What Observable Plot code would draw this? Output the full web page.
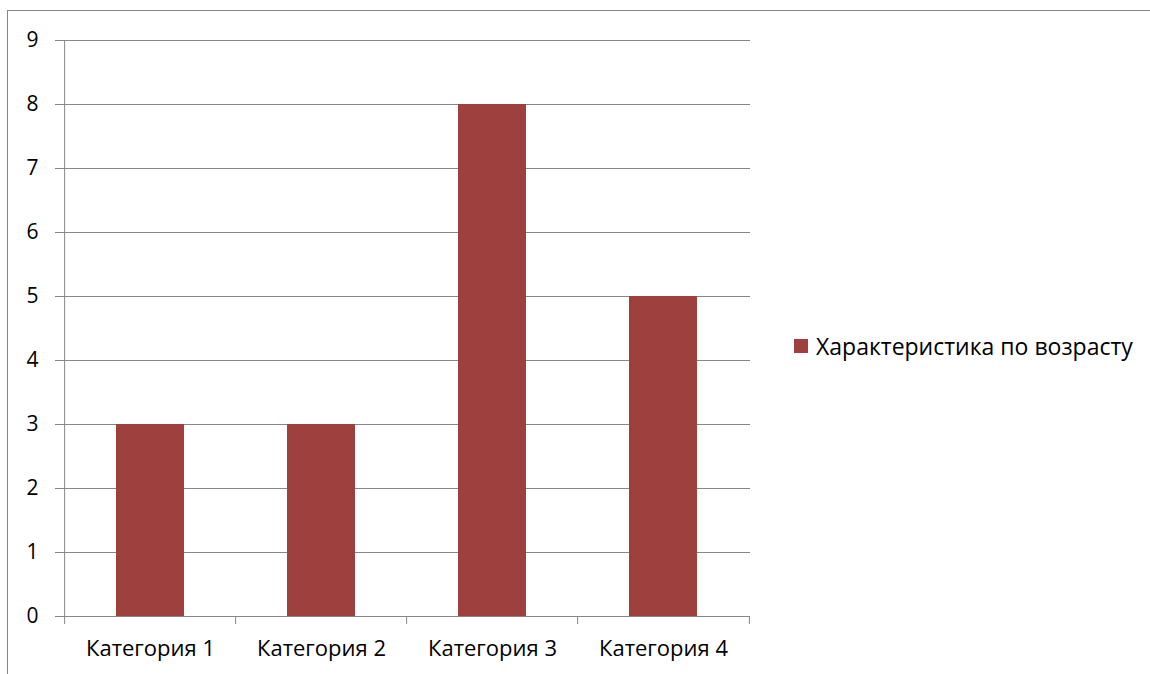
<!DOCTYPE html>
<html><head><meta charset="utf-8">
<script src="https://cdn.jsdelivr.net/npm/d3@7"></script>
<script src="https://cdn.jsdelivr.net/npm/@observablehq/plot@0.6"></script>
<style>
body{margin:0;background:#fff;font-family:"Open Sans",sans-serif;}
#wrap{position:relative;width:1150px;height:674px;overflow:hidden;}
#border{position:absolute;left:7px;top:10px;width:1200px;height:700px;border-left:1px solid #868686;border-top:1px solid #868686;}
#chart{position:absolute;left:0;top:0;}
#legend{position:absolute;left:794px;top:331px;height:30px;display:flex;align-items:center;font-size:23px;line-height:30px;color:#000;white-space:nowrap;}
#legend .sw{width:14px;height:14px;margin-right:8px;}
</style></head>
<body><div id="wrap"><div id="border"></div><div id="chart"></div><div id="legend"></div></div>
<script>
const categories = ["Категория 1","Категория 2","Категория 3","Категория 4"];
const values = [3, 3, 8, 5];
const seriesName = "Характеристика по возрасту";
const yTicks = [0,1,2,3,4,5,6,7,8,9];
const barColor = "#9E413E";
const gray = "#868686";

const data = categories.map((c,i)=>({category:c, value:values[i]}));
const W = 1150, H = 674, mL = 63, mR = 400, mT = 40, mB = 58;
const step = (W - mL - mR) / categories.length;

const plot = Plot.plot({
  width: W, height: H,
  marginLeft: mL, marginRight: mR, marginTop: mT, marginBottom: mB,
  style: {fontFamily: "Open Sans, sans-serif", fontSize: "21px", color: "#000", background: "transparent"},
  x: {domain: categories, paddingInner: 0.6, paddingOuter: 0.3, label: null},
  y: {domain: [0, 9], label: null},
  marks: [
    Plot.gridY(yTicks, {stroke: gray, strokeOpacity: 1, strokeWidth: 1}),
    Plot.barY(data, {x: "category", y: "value", fill: barColor}),
    Plot.axisY(yTicks, {tickSize: 8, tickPadding: 17, tickFormat: d3.format("d"), stroke: gray, strokeOpacity: 1, fill: "#000", fontSize: 21, label: null}),
    Plot.axisX({tickSize: 0, tickPadding: 24, fill: "#000", fontSize: 22, label: null}),
    Plot.ruleX(categories, {x: d => d, dx: -step/2, y1: 0, y2: -0.125, stroke: gray}),
    Plot.ruleX(categories.slice(-1), {x: d => d, dx: step/2, y1: 0, y2: -0.125, stroke: gray}),
    Plot.ruleY([0], {stroke: gray}),
    Plot.ruleX([categories[0]], {x: d => d, dx: -step/2, y1: 0, y2: 9, stroke: gray})
  ]
});
document.getElementById("chart").appendChild(plot);

const lg = document.getElementById("legend");
const sw = document.createElement("span"); sw.className = "sw"; sw.style.background = barColor;
const tx = document.createElement("span"); tx.textContent = seriesName;
lg.appendChild(sw); lg.appendChild(tx);
</script></body></html>
